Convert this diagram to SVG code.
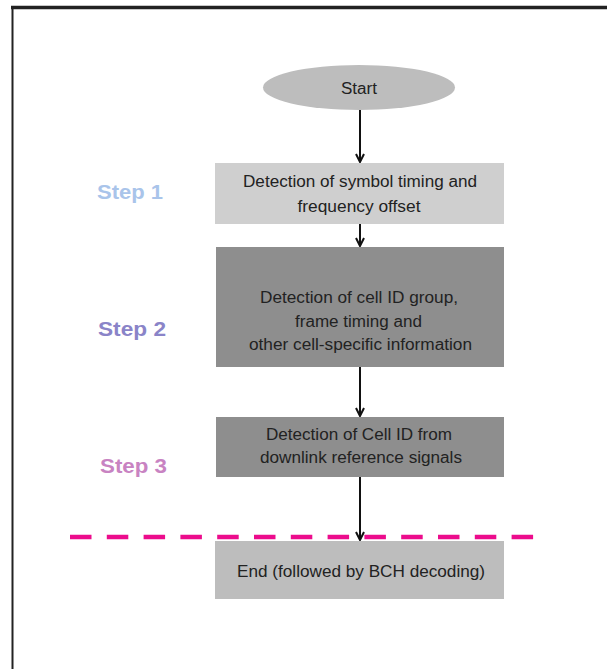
<svg xmlns="http://www.w3.org/2000/svg" width="607" height="669" viewBox="0 0 607 669">
<style>
.t{font-family:"Liberation Sans",Arial,sans-serif;font-size:16px;fill:#222;text-anchor:middle}
.s{font-family:"Liberation Sans",Arial,sans-serif;font-size:20px;font-weight:bold}
.c{stroke:#111;stroke-width:2;fill:none}
</style>
<defs>
<marker id="ah" viewBox="0 0 10 10" refX="9" refY="5" markerWidth="10" markerHeight="10" markerUnits="userSpaceOnUse" orient="auto">
<path d="M1,1 L9,5 L1,9" fill="none" stroke="#111" stroke-width="2"/>
</marker>
</defs>
<rect width="607" height="669" fill="#fff"/>
<g id="frame">
<line x1="11" y1="7.5" x2="607" y2="7.5" stroke="#222" stroke-width="3.5"/>
<line x1="12.5" y1="6" x2="12.5" y2="669" stroke="#222" stroke-width="2"/>
</g>
<g id="connectors">
<line class="c" x1="360" y1="110" x2="360" y2="162" marker-end="url(#ah)"/>
<line class="c" x1="360" y1="224" x2="360" y2="246" marker-end="url(#ah)"/>
<line class="c" x1="360" y1="367" x2="360" y2="416" marker-end="url(#ah)"/>
<line class="c" x1="360" y1="477" x2="360" y2="540" marker-end="url(#ah)"/>
</g>
<g id="divider">
<line x1="70" y1="537" x2="540" y2="537" stroke="#ec0c8c" stroke-width="4.5" stroke-dasharray="21.5 15.3"/>
</g>
<g id="start">
<ellipse cx="359" cy="87.5" rx="96" ry="22.5" fill="#bdbdbd"/>
<text class="t" x="359" y="94" textLength="36" lengthAdjust="spacingAndGlyphs">Start</text>
</g>
<g id="step1-box">
<rect x="215" y="163" width="289" height="61" fill="#cfcfcf"/>
<text class="t" x="360" y="187" textLength="234" lengthAdjust="spacingAndGlyphs">Detection of symbol timing and</text>
<text class="t" x="359" y="212" textLength="123" lengthAdjust="spacingAndGlyphs">frequency offset</text>
</g>
<g id="step2-box">
<rect x="216" y="247" width="288" height="120" fill="#8e8e8e"/>
<text class="t" x="359" y="303" textLength="198" lengthAdjust="spacingAndGlyphs">Detection of cell ID group,</text>
<text class="t" x="358.5" y="327" textLength="127" lengthAdjust="spacingAndGlyphs">frame timing and</text>
<text class="t" x="360.5" y="350" textLength="223" lengthAdjust="spacingAndGlyphs">other cell-specific information</text>
</g>
<g id="step3-box">
<rect x="216" y="417" width="288" height="60" fill="#8e8e8e"/>
<text class="t" x="359" y="440" textLength="186" lengthAdjust="spacingAndGlyphs">Detection of Cell ID from</text>
<text class="t" x="361" y="463" textLength="202" lengthAdjust="spacingAndGlyphs">downlink reference signals</text>
</g>
<g id="end">
<rect x="215" y="541" width="289" height="58" fill="#bdbdbd"/>
<text class="t" x="361" y="577" textLength="248" lengthAdjust="spacingAndGlyphs">End (followed by BCH decoding)</text>
</g>
<g id="step1">
<text class="s" x="97" y="199" fill="#a9c4ea" textLength="66" lengthAdjust="spacingAndGlyphs">Step 1</text>
</g>
<g id="step2">
<text class="s" x="98" y="336" fill="#8a84c8" textLength="68" lengthAdjust="spacingAndGlyphs">Step 2</text>
</g>
<g id="step3">
<text class="s" x="100" y="473" fill="#c883c2" textLength="67" lengthAdjust="spacingAndGlyphs">Step 3</text>
</g>
</svg>
